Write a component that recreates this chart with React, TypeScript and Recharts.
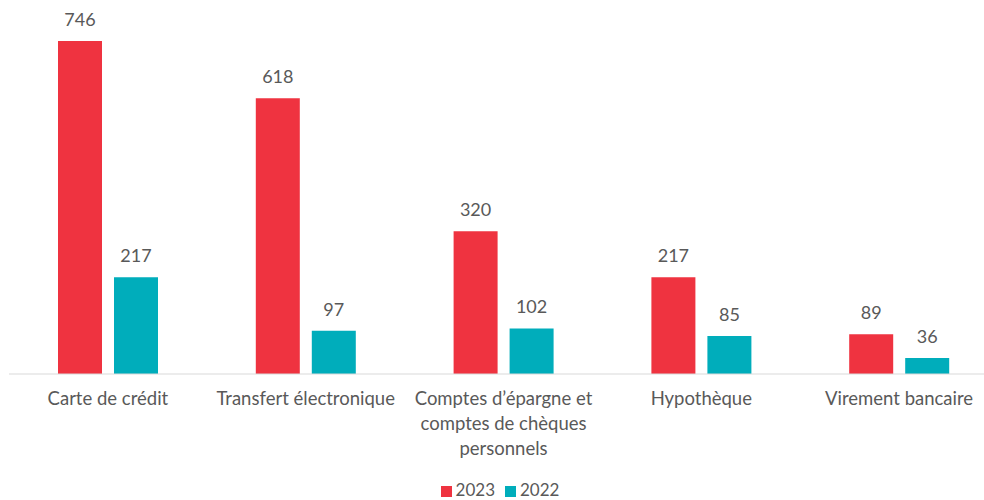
import { Bar, BarChart, LabelList, Legend, XAxis, YAxis } from 'recharts';

const categories = [
  'Carte de crédit',
  'Transfert électronique',
  'Comptes d’épargne et comptes de chèques personnels',
  'Hypothèque',
  'Virement bancaire',
];
const values2023 = [746, 618, 320, 217, 89];
const values2022 = [217, 97, 102, 85, 36];
const seriesOrder = ['2023', '2022'];

const data = categories.map((name, i) => ({
  name,
  y2023: values2023[i],
  y2022: values2022[i],
}));

const FONT = 'Lato, "Open Sans", sans-serif';
const TEXT = '#595959';

function wrap(text: string, max: number) {
  const words = text.split(' ');
  const lines: string[] = [];
  let cur = '';
  for (const w of words) {
    const next = cur ? cur + ' ' + w : w;
    if (next.length > max && cur) {
      lines.push(cur);
      cur = w;
    } else {
      cur = next;
    }
  }
  if (cur) lines.push(cur);
  return lines;
}

function CategoryTick(props: any) {
  const { x, y, payload } = props;
  const lines = wrap(payload.value, 22);
  return (
    <text x={x} y={y + 23} textAnchor="middle" fill={TEXT} fontSize={18.5} fontFamily={FONT}>
      {lines.map((l, i) => (
        <tspan key={i} x={x} dy={i === 0 ? 0 : 25}>
          {l}
        </tspan>
      ))}
    </text>
  );
}

export default function App() {
  return (
    <div style={{ position: 'absolute', left: 0, top: 0, width: 984, height: 500, overflow: 'hidden' }}>
      <BarChart
        width={1000}
        height={500}
        data={data}
        margin={{ top: 17, right: 2, bottom: 0, left: 9 }}
        barSize={44}
        barGap={12}
      >
        <XAxis
          dataKey="name"
          tickLine={false}
          axisLine={{ stroke: '#d9d9d9' }}
          tick={<CategoryTick />}
          interval={0}
          height={105}
        />
        <YAxis hide domain={[0, 800]} />
        <Legend
          verticalAlign="bottom"
          align="center"
          iconType="square"
          iconSize={11}
          itemSorter={(item: any) => seriesOrder.indexOf(String(item.value))}
          wrapperStyle={{ fontFamily: FONT, fontSize: 17, color: TEXT, left: 0, width: 1010 }}
          formatter={(v) => <span style={{ color: TEXT }}>{v}</span>}
        />
        <Bar dataKey="y2023" name="2023" fill="#ef3340" isAnimationActive={false}>
          <LabelList dataKey="y2023" position="top" offset={15} fill={TEXT} fontSize={18} fontFamily={FONT} />
        </Bar>
        <Bar dataKey="y2022" name="2022" fill="#00adbb" isAnimationActive={false}>
          <LabelList dataKey="y2022" position="top" offset={15} fill={TEXT} fontSize={18} fontFamily={FONT} />
        </Bar>
      </BarChart>
    </div>
  );
}
